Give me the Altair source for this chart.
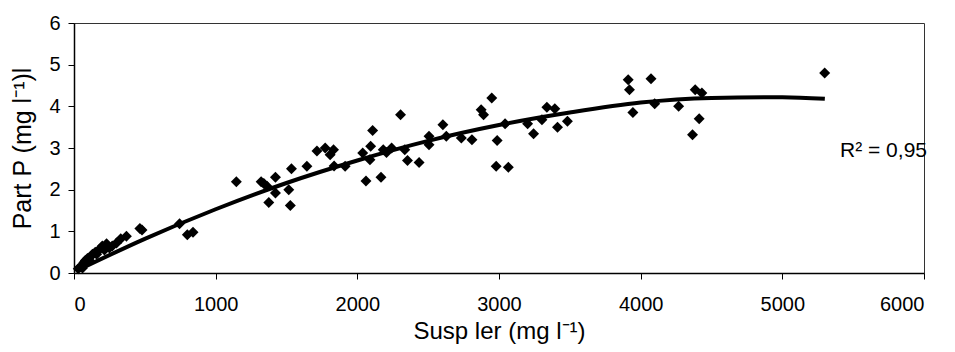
import altair as alt
import pandas as pd

# Suspended sediment (mg/l) and particulate P (mg/l)
susp = [30, 45, 60, 70, 80, 95, 110, 120, 130, 150, 160, 175, 190, 200, 215, 230, 250, 270, 300,
        330, 370, 465, 480, 745, 800, 840,
        1146, 1321, 1340, 1363, 1422, 1422, 1375, 1516, 1527, 1535, 1644, 1715, 1773, 1832, 1808,
        1836, 1914, 2038, 2089, 2108, 2094, 2061, 2167, 2183, 2242, 2206, 2305, 2335, 2354, 2436,
        2506, 2506, 2604, 2628, 2734, 2809,
        2874, 2891, 2949, 2987, 3043, 2980, 3066, 3202, 3244, 3303, 3338, 3394, 3413, 3483,
        3912, 3921, 3945, 4073, 4099, 4268, 4385, 4432, 4413, 4366, 5299]
partp = [0.10, 0.15, 0.12, 0.25, 0.30, 0.35, 0.30, 0.40, 0.45, 0.50, 0.45, 0.55, 0.60, 0.65, 0.55, 0.70, 0.60, 0.65, 0.72,
         0.82, 0.88, 1.07, 1.03, 1.18, 0.92, 0.98,
         2.19, 2.19, 2.15, 2.08, 2.30, 1.92, 1.69, 2.00, 1.62, 2.50, 2.56, 2.93, 3.00, 2.96, 2.84,
         2.57, 2.56, 2.88, 2.72, 3.42, 3.04, 2.21, 2.30, 2.96, 3.00, 2.89, 3.80, 2.96, 2.70, 2.65,
         3.28, 3.08, 3.56, 3.28, 3.24, 3.20,
         3.92, 3.80, 4.20, 3.18, 3.58, 2.56, 2.54, 3.58, 3.34, 3.68, 3.98, 3.94, 3.50, 3.64,
         4.64, 4.40, 3.85, 4.66, 4.06, 4.00, 4.40, 4.32, 3.70, 3.32, 4.80]

# Trend line (2nd order polynomial)
trend_x = [15, 500, 1000, 1500, 2000, 2500, 3000, 3500, 4000, 4500, 5000, 5300]
trend_y = [0.05, 0.82, 1.53, 2.16, 2.70, 3.17, 3.55, 3.85, 4.09, 4.20, 4.22, 4.18]

x_ticks = [0, 1000, 2000, 3000, 4000, 5000, 6000]
y_ticks = [0, 1, 2, 3, 4, 5, 6]
r2_label = ["R² = 0,95"]

df = pd.DataFrame({"susp": susp, "partp": partp})
df_trend = pd.DataFrame({"susp": trend_x, "partp": trend_y})
FONT = "Liberation Sans"

x_enc = alt.X("susp:Q",
              scale=alt.Scale(domain=[0, 6000], nice=False),
              axis=alt.Axis(values=x_ticks, format="d", title="Susp ler (mg l⁻¹)",
                            titleY=65, titleBaseline="alphabetic", labelPadding=15))
y_enc = alt.Y("partp:Q",
              scale=alt.Scale(domain=[0, 6], nice=False),
              axis=alt.Axis(values=y_ticks, format="d", title="Part P (mg l⁻¹)l",
                            titleFontSize=25,
                            titleX=-52, titleBaseline="middle", labelPadding=8))

points = alt.Chart(df).mark_point(shape="diamond", filled=True, color="black",
                                  size=120, opacity=1).encode(x=x_enc, y=y_enc)

trend = alt.Chart(df_trend).mark_line(
    color="black", strokeWidth=4, interpolate="monotone"
).encode(x="susp:Q", y="partp:Q")

label = alt.Chart(pd.DataFrame({"t": r2_label})).mark_text(
    align="right", baseline="alphabetic", fontSize=21, font=FONT, color="black"
).encode(x=alt.value(853), y=alt.value(134), text="t:N")

chart = alt.layer(points, trend, label).properties(
    width=850, height=250,
    autosize=alt.AutoSizeParams(type="none"),
    padding={"left": 66, "top": 15, "right": 23, "bottom": 71},
).configure_view(
    stroke="#333333", strokeWidth=1
).configure_axis(
    grid=False, domainColor="black", domainWidth=1.5, tickColor="black", tickSize=6,
    labelFont=FONT, labelFontSize=20, labelColor="black",
    titleFont=FONT, titleFontSize=24, titleFontWeight="normal", titleColor="black"
)

chart.save("out.html", embed_options={"renderer": "svg", "actions": False})
